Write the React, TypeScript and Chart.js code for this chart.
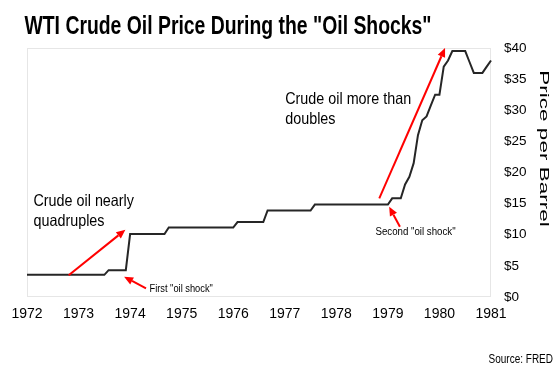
import React, { useEffect, useRef } from 'react';
import { Chart, registerables } from 'chart.js';

Chart.register(...registerables);

// ---- data (monthly WTI spot price, USD per barrel) ----
const yearTicks = ['1972', '1973', '1974', '1975', '1976', '1977', '1978', '1979', '1980', '1981'];
const p1972 = [3.56, 3.56, 3.56, 3.56, 3.56, 3.56, 3.56, 3.56, 3.56, 3.56, 3.56, 3.56];
const p1973 = [3.56, 3.56, 3.56, 3.56, 3.56, 3.56, 3.56, 4.31, 4.31, 4.31, 4.31, 4.31];
const p1974 = [10.11, 10.11, 10.11, 10.11, 10.11, 10.11, 10.11, 10.11, 10.11, 11.16, 11.16, 11.16];
const p1975 = [11.16, 11.16, 11.16, 11.16, 11.16, 11.16, 11.16, 11.16, 11.16, 11.16, 11.16, 11.16];
const p1976 = [11.16, 12.03, 12.03, 12.03, 12.03, 12.03, 12.03, 12.03, 13.9, 13.9, 13.9, 13.9];
const p1977 = [13.9, 13.9, 13.9, 13.9, 13.9, 13.9, 13.9, 14.85, 14.85, 14.85, 14.85, 14.85];
const p1978 = [14.85, 14.85, 14.85, 14.85, 14.85, 14.85, 14.85, 14.85, 14.85, 14.85, 14.85, 14.85];
const p1979 = [14.85, 15.85, 15.85, 15.85, 18.08, 19.3, 21.5, 26.0, 28.4, 29.0, 30.8, 32.5];
const p1980 = [32.5, 37.0, 38.0, 39.5, 39.5, 39.5, 39.5, 37.75, 36.0, 36.0, 36.0, 37.0];
const p1981 = [38.0];

const prices = [
  ...p1972, ...p1973, ...p1974, ...p1975, ...p1976,
  ...p1977, ...p1978, ...p1979, ...p1980, ...p1981,
];
const monthLabels: string[] = [];
yearTicks.forEach((yr, yi) => {
  const n = yi === yearTicks.length - 1 ? 1 : 12;
  for (let m = 1; m <= n; m++) monthLabels.push(`${yr}-${String(m).padStart(2, '0')}`);
});

const titleText = 'WTI Crude Oil Price During the "Oil Shocks"';
const axisTitle = 'Price per Barrel';
const sourceText = 'Source: FRED';

// annotations, in data coordinates (month index, price)
const arrows = [
  { from: [9.7, 3.5], to: [22.9, 10.8] },
  { from: [27.7, 1.4], to: [22.6, 3.25] },
  { from: [82.0, 15.85], to: [97.3, 40.0] },
  { from: [86.8, 11.3], to: [84.3, 14.5] },
];
const notes = [
  { lines: ['Crude oil nearly', 'quadruples'], at: [1.5, 15.3], size: 16.5, squeeze: 0.87 },
  { lines: ['Crude oil more than', 'doubles'], at: [60.1, 31.7], size: 16.5, squeeze: 0.87 },
  { lines: ['First "oil shock"'], at: [28.5, 1.32], size: 10, squeeze: 0.93 },
  { lines: ['Second "oil shock"'], at: [81.1, 10.47], size: 10, squeeze: 0.97 },
];

const SANS = "'Liberation Sans', Arial, sans-serif";

function drawArrow(ctx: CanvasRenderingContext2D, x1: number, y1: number, x2: number, y2: number) {
  const ang = Math.atan2(y2 - y1, x2 - x1);
  const head = 9;
  const hw = 4;
  const bx = x2 - head * Math.cos(ang);
  const by = y2 - head * Math.sin(ang);
  ctx.beginPath();
  ctx.moveTo(x1, y1);
  ctx.lineTo(bx, by);
  ctx.stroke();
  ctx.beginPath();
  ctx.moveTo(x2, y2);
  ctx.lineTo(bx + hw * Math.sin(ang), by - hw * Math.cos(ang));
  ctx.lineTo(bx - hw * Math.sin(ang), by + hw * Math.cos(ang));
  ctx.closePath();
  ctx.fill();
}

function squeezedText(
  ctx: CanvasRenderingContext2D, text: string, x: number, y: number, sx: number
) {
  ctx.save();
  ctx.translate(x, y);
  ctx.scale(sx, 1);
  ctx.fillText(text, 0, 0);
  ctx.restore();
}

const annotatePlugin = {
  id: 'annotate',
  beforeDatasetsDraw(chart: any) {
    const { ctx, chartArea: a } = chart;
    ctx.save();
    ctx.strokeStyle = '#e6e6e6';
    ctx.lineWidth = 1;
    ctx.strokeRect(a.left + 0.5, a.top + 0.5, a.right - a.left - 1, a.bottom - a.top - 1);
    ctx.restore();
  },
  afterDatasetsDraw(chart: any) {
    const { ctx, scales } = chart;
    const xs = scales.x;
    const ys = scales.y;
    ctx.save();
    ctx.strokeStyle = '#ff0000';
    ctx.fillStyle = '#ff0000';
    ctx.lineWidth = 2;
    arrows.forEach((ar) => {
      drawArrow(
        ctx,
        xs.getPixelForValue(ar.from[0]), ys.getPixelForValue(ar.from[1]),
        xs.getPixelForValue(ar.to[0]), ys.getPixelForValue(ar.to[1])
      );
    });
    ctx.fillStyle = '#000';
    ctx.textAlign = 'left';
    ctx.textBaseline = 'middle';
    notes.forEach((n) => {
      ctx.font = `${n.size}px ${SANS}`;
      const px = xs.getPixelForValue(n.at[0]);
      const py = ys.getPixelForValue(n.at[1]);
      n.lines.forEach((ln, i) => squeezedText(ctx, ln, px, py + i * 20, n.squeeze));
    });

    // title
    ctx.textBaseline = 'alphabetic';
    ctx.font = `bold 25px ${SANS}`;
    squeezedText(ctx, titleText, 24.5, 34, 0.775);

    // axis title, rotated and squeezed like the reference
    ctx.save();
    ctx.translate(chart.width - 16, 148.5);
    ctx.scale(0.6, 1);
    ctx.rotate(Math.PI / 2);
    ctx.textAlign = 'center';
    ctx.textBaseline = 'middle';
    ctx.font = `22.5px ${SANS}`;
    ctx.fillText(axisTitle, 0, 0);
    ctx.restore();

    // source
    ctx.textAlign = 'right';
    ctx.textBaseline = 'middle';
    ctx.font = `12.5px ${SANS}`;
    squeezedText(ctx, sourceText, chart.width - 7, 360, 0.8);
    ctx.restore();
  },
};

export default function App() {
  const ref = useRef<HTMLCanvasElement>(null);
  useEffect(() => {
    if (!ref.current) return;
    const chart = new Chart(ref.current, {
      type: 'line',
      data: {
        labels: monthLabels,
        datasets: [
          {
            data: prices,
            borderColor: '#262626',
            borderWidth: 2,
            pointRadius: 0,
            tension: 0,
            borderJoinStyle: 'miter',
            fill: false,
          },
        ],
      },
      options: {
        responsive: false,
        animation: false,
        layout: { padding: { left: 27, right: 0, top: 48, bottom: 0 } },
        plugins: {
          legend: { display: false },
          tooltip: { enabled: false },
          title: { display: false },
        },
        scales: {
          x: {
            type: 'category',
            grid: { display: false, drawTicks: false },
            border: { display: false },
            ticks: {
              autoSkip: false,
              maxRotation: 0,
              minRotation: 0,
              padding: 9,
              color: '#000',
              font: { family: SANS, size: 14 },
              callback: (_v: any, idx: number) => (idx % 12 === 0 ? yearTicks[idx / 12] : ''),
            },
            afterFit: (s: any) => {
              s.height = 74;
            },
          },
          y: {
            position: 'right',
            min: 0,
            max: 40,
            grid: { display: false, drawTicks: false },
            border: { display: false },
            ticks: {
              stepSize: 5,
              padding: 13,
              color: '#000',
              font: { family: SANS, size: 13.5 },
              callback: (v: any) => `$${v}`,
            },
            afterFit: (s: any) => {
              s.width = 69;
            },
          },
        },
      },
      plugins: [annotatePlugin],
    } as any);
    return () => chart.destroy();
  }, []);
  return (
    <div style={{ position: 'absolute', left: 0, top: 0, width: 560, height: 371, background: '#fff' }}>
      <canvas ref={ref} width={560} height={371} style={{ display: 'block' }} />
    </div>
  );
}
